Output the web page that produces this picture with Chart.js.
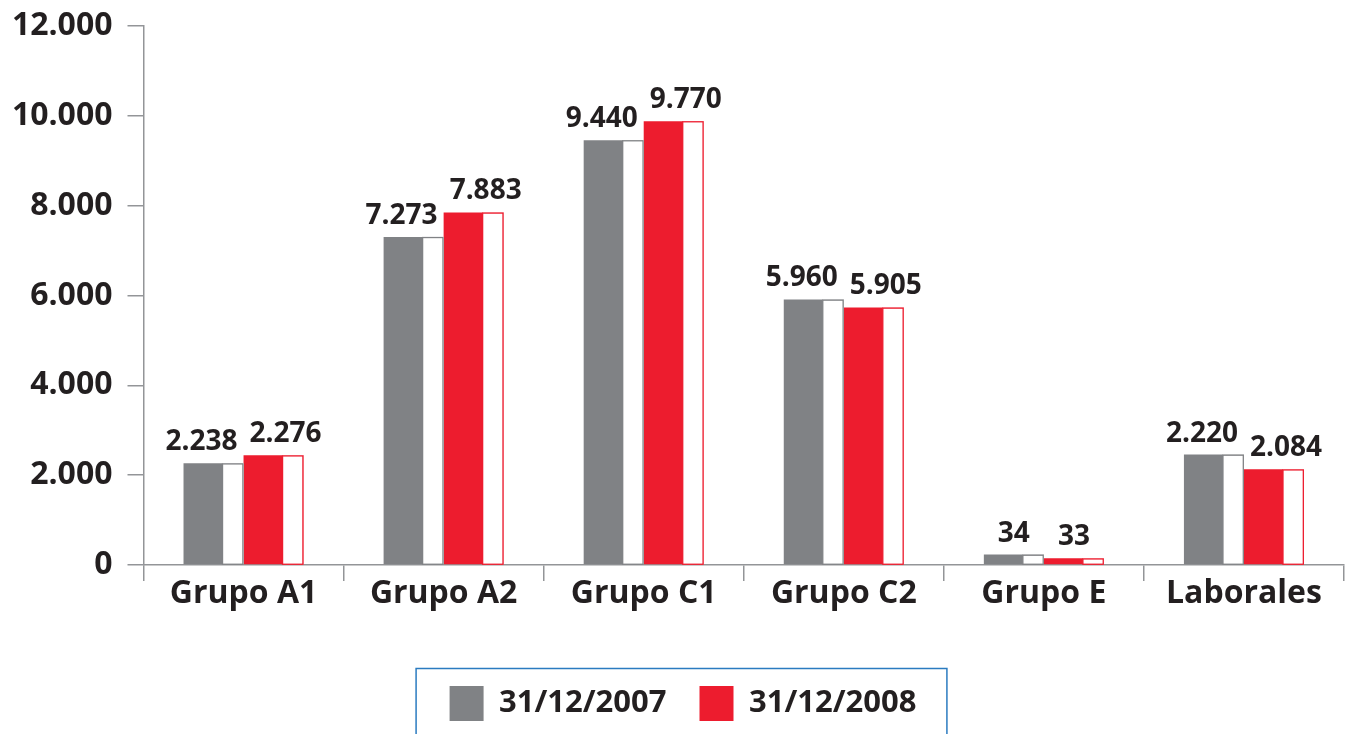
<!DOCTYPE html>
<html>
<head>
<meta charset="utf-8">
<script src="https://cdn.jsdelivr.net/npm/chart.js@4.4.1/dist/chart.umd.min.js"></script>
<style>
  html, body { margin: 0; padding: 0; background: #ffffff; }
  #wrap { width: 1351px; height: 734px; }
</style>
</head>
<body>
<div id="wrap"><canvas id="c" width="1351" height="734"></canvas></div>
<script>
// ---- data ----
const categories = ['Grupo A1', 'Grupo A2', 'Grupo C1', 'Grupo C2', 'Grupo E', 'Laborales'];
const seriesNames = ['31/12/2007', '31/12/2008'];
// bar heights as drawn in the picture
const values2007 = [2265, 7305, 9459, 5911, 232, 2459];
const values2008 = [2443, 7849, 9882, 5733, 149, 2131];
// value labels printed above the bars
const labels2007 = ['2.238', '7.273', '9.440', '5.960', '34', '2.220'];
const labels2008 = ['2.276', '7.883', '9.770', '5.905', '33', '2.084'];
const yTickLabels = ['0', '2.000', '4.000', '6.000', '8.000', '10.000', '12.000'];

const GRAY = '#808285';
const RED = '#ed1c2e';
const AXIS = '#939598';
const TEXT = '#231f20';
const FONT = "'Open Sans', 'DejaVu Sans', sans-serif";

// draws the white right-hand portion of every bar
const splitBars = {
  id: 'splitBars',
  afterDatasetsDraw(chart) {
    const ctx = chart.ctx;
    chart.data.datasets.forEach((ds, di) => {
      const meta = chart.getDatasetMeta(di);
      meta.data.forEach(el => {
        const p = el.getProps(['x', 'y', 'base', 'width'], true);
        const left = p.x - p.width / 2;
        const right = p.x + p.width / 2;
        const ws = left + p.width * 0.65;
        ctx.save();
        ctx.fillStyle = '#ffffff';
        ctx.fillRect(ws, p.y, right - ws, p.base - p.y);
        ctx.strokeStyle = ds.backgroundColor;
        ctx.lineWidth = 1.3;
        ctx.strokeRect(ws, p.y + 0.65, right - ws - 0.65, p.base - p.y - 0.65);
        ctx.restore();
      });
    });
  }
};

// value labels above bars
const valueLabels = {
  id: 'valueLabels',
  afterDatasetsDraw(chart) {
    const ctx = chart.ctx;
    const xs = chart.scales.x;
    const texts = [labels2007, labels2008];
    ctx.save();
    ctx.font = "bold 28px " + FONT;
    ctx.fillStyle = TEXT;
    ctx.textAlign = 'center';
    ctx.textBaseline = 'alphabetic';
    chart.data.datasets.forEach((ds, di) => {
      const meta = chart.getDatasetMeta(di);
      meta.data.forEach((el, i) => {
        const p = el.getProps(['x', 'y'], true);
        const t = texts[di][i];
        const w = ctx.measureText(t).width;
        const cc = xs.getPixelForValue(i);
        let cx = p.x;
        if (di === 0) cx = Math.min(p.x, cc - 6 - w / 2);
        else cx = Math.max(p.x, cc + 6 + w / 2);
        ctx.fillText(t, cx, p.y - 13);
      });
    });
    ctx.restore();
  }
};

// nudge the legend a little to the right, as in the original
const legendShift = {
  id: 'legendShift',
  afterLayout(chart) {
    const lg = chart.legend;
    if (!lg) return;
    lg.left += 22;
  }
};

// frame around the legend
const legendFrame = {
  id: 'legendFrame',
  afterDraw(chart) {
    const lg = chart.legend;
    if (!lg || !lg.legendHitBoxes || !lg.legendHitBoxes.length) return;
    const hb = lg.legendHitBoxes;
    const first = hb[0], last = hb[hb.length - 1];
    const l = first.left - 34;
    const r = last.left + last.width + 30;
    const t = first.top - 18;
    const ctx = chart.ctx;
    ctx.save();
    ctx.strokeStyle = '#2b7bc0';
    ctx.lineWidth = 1.5;
    ctx.strokeRect(l + 0.5, t + 0.5, r - l, 120);
    ctx.restore();
  }
};

new Chart(document.getElementById('c'), {
  type: 'bar',
  data: {
    labels: categories,
    datasets: [
      { label: seriesNames[0], data: values2007, backgroundColor: GRAY, borderWidth: 0,
        categoryPercentage: 0.6, barPercentage: 1.0 },
      { label: seriesNames[1], data: values2008, backgroundColor: RED, borderWidth: 0,
        categoryPercentage: 0.6, barPercentage: 1.0 }
    ]
  },
  options: {
    responsive: false,
    animation: false,
    layout: { padding: { top: 26, right: 7, bottom: 3, left: 0 } },
    plugins: {
      tooltip: { enabled: false },
      legend: {
        position: 'bottom',
        labels: {
          boxWidth: 34,
          boxHeight: 35,
          padding: 33,
          color: TEXT,
          font: { family: FONT, size: 31, weight: 'bold' }
        }
      }
    },
    scales: {
      x: {
        grid: { display: true, drawOnChartArea: false, offset: true, tickLength: 16, color: AXIS, lineWidth: 1.5 },
        border: { display: true, color: AXIS, width: 1.5 },
        ticks: { color: TEXT, padding: -3, font: { family: FONT, size: 32, weight: 'bold', lineHeight: 1 } },
        afterFit(scale) { scale.height = 88; }
      },
      y: {
        min: 0, max: 12000,
        grid: { display: true, drawOnChartArea: false, tickLength: 16, color: AXIS, lineWidth: 1.5 },
        border: { display: true, color: AXIS, width: 1.5 },
        ticks: {
          stepSize: 2000, color: TEXT, padding: 15,
          font: { family: FONT, size: 32, weight: 'bold', lineHeight: 0.6 },
          callback: (v, i) => yTickLabels[i]
        },
        afterFit(scale) { scale.width = 143.5; }
      }
    }
  },
  plugins: [legendShift, splitBars, valueLabels, legendFrame]
});
</script>
</body>
</html>
